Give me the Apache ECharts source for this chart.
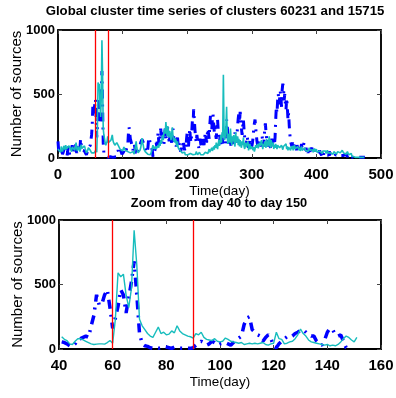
<!DOCTYPE html>
<html>
<head>
<meta charset="utf-8">
<script src="https://cdn.jsdelivr.net/npm/echarts@6/dist/echarts.min.js"></script>
<style>
html, body { margin: 0; padding: 0; background: #fff; }
#main { width: 396px; height: 398px; }
</style>
</head>
<body>
<div id="main"></div>
<script>
// cluster time series, one value per day starting at day 0
var cyanVals = [
    70, 55, 80, 60, 45, 90, 70, 50, 60, 95, 80, 65, 100, 70, 55, 85, 60, 95, 110, 75,
    60, 50, 85, 70, 100, 80, 60, 90, 120, 75, 55, 65, 90, 70, 50, 80, 105, 75, 60, 90, 80,
    // day 41
    95, 75, 65, 40, 35, 60, 80, 80, 70, 60,
    50, 40, 35, 38, 40, 40, 38, 50, 65, 45,
    230, 590, 560, 580, 420, 320, 470, 920, 650, 230,
    180, 150, 120, 100, 90, 130, 170, 120, 130, 110,
    115, 140, 125, 180, 140, 120, 110, 100, 95, 85,
    120, 110, 130, 90, 75, 70, 65, 80, 60, 55,
    60, 85, 75, 60, 55, 50, 45, 50, 35, 40,
    45, 40, 45, 40, 45, 50, 35, 30, 40, 45,
    130, 80, 75, 40, 45, 55, 60, 80, 110, 155,
    120, 100, 70, 55, 50, 45, 40, 35, 30, 35,
    25, 30, 25, 35, 55, 80, 100, 90, 70, 55,
    90,
    // day 152
    70, 60, 85, 100, 80, 120, 95, 140, 110, 150,
    180, 140, 200, 230, 190, 280, 220, 170, 250, 200,
    160, 210, 180, 140, 190, 240, 170, 130, 160, 120,
    150, 110, 90, 130, 80, 70, 95, 60, 50, 45,
    40, 55, 35, 30, 45, 25, 30, 20, 35, 25,
    30, 40, 25, 35, 20, 30, 45, 25, 35, 30,
    40, 30, 50, 35, 25, 40, 30, 45, 35, 25,
    30, 20, 35, 25, 40, 30, 45, 60, 40, 55,
    35, 50, 70, 45, 60, 40, 80, 55, 70, 90,
    65, 100, 80, 120, 90, 70, 110, 140, 95, 130,
    180, 120, 200, 160, 650, 220, 140, 180, 250, 400,
    160, 110, 190, 140, 120, 230, 150, 100, 170, 130,
    180, 110, 90, 200, 140, 120, 170, 100, 150, 90,
    140, 110, 80, 130, 100, 160, 90, 70, 120, 85,
    100, 70, 130, 60, 90, 110, 70, 55, 90, 75,
    60, 85, 50, 70, 100, 80, 65, 110, 75, 90,
    120, 95, 80, 140, 100, 70, 110, 90, 130, 100,
    80, 150, 110, 90, 120, 170, 100, 80, 140, 110,
    90, 120, 70, 100, 80, 110, 90, 70, 100, 85,
    110, 80, 95, 70, 100, 85, 65, 90, 75, 100,
    80, 110, 70, 90, 60, 85, 100, 75, 60, 90,
    70, 95, 60, 80, 100, 70, 55, 85, 65, 90,
    75, 60, 80, 55, 70, 90, 60, 75, 50, 65,
    80, 60, 70, 55, 75, 50, 65, 80, 60, 55,
    70, 50, 65, 45, 60, 75, 50, 55, 70, 45,
    60, 50, 40, 55, 65, 45, 50, 35, 55, 60,
    45, 40, 55, 35, 50, 60, 40, 45, 35, 50,
    40, 55, 35, 45, 30, 50, 40, 35, 45, 30,
    40, 50, 35, 45, 55, 40, 30, 45, 60, 50,
    40, 55, 35, 45, 30, 40, 50, 35, 25, 40,
    30, 20, 35, 15, 5, 5, 5, 5, 5, 5,
    5, 5, 5, 5, 5, 5, 5, 5, 5, 5, 5, 5, 5, 5
];

var blueVals = [
    130, 60, 30, 20, 40, 80, 50, 30, 20, 60, 100, 70, 40, 30, 20, 50, 90, 60, 30, 20,
    40, 70, 100, 60, 30, 40, 80, 110, 70, 40, 60, 90, 70, 50, 80, 150, 100, 60, 50, 70, 60,
    // day 41
    55, 50, 40, 25, 20, 40, 75, 80, 90, 100,
    90, 180, 260, 420, 340, 350, 420, 460, 320, 160,
    240, 330, 460, 420, 280, 400, 520, 680, 420, 120,
    40, 25, 20, 10, 5, 10, 5, 10, 20, 15,
    10, 5, 15, 10, 5, 5, 10, 5, 5, 10,
    30, 45, 60, 50, 30, 40, 60, 50, 30, 40,
    45, 50, 40, 30, 50, 70, 85, 100, 190, 240,
    250, 150, 130, 110, 100, 60, 90, 110, 80, 20,
    10, 40, 60, 80, 95, 90, 100, 120, 130, 145,
    150, 130, 110, 100, 100, 60, 40, 30, 70, 130,
    160, 150, 110, 100, 110, 60, 10, 0, 20, 60,
    90,
    // day 152
    120, 90, 150, 200, 130, 100, 180, 230, 160, 120,
    200, 150, 110, 180, 230, 170, 140, 200, 250, 180,
    130, 160, 210, 150, 120, 180, 230, 170, 130, 150,
    110, 90, 130, 160, 100, 80, 120, 70, 50, 80,
    60, 100, 140, 90, 60, 110, 80, 150, 200, 120,
    90, 170, 230, 150, 120, 200, 290, 250, 380, 300,
    220, 160, 120, 180, 140, 100, 80, 120, 150, 110,
    90, 130, 170, 140, 100, 150, 200, 160, 120, 180,
    230, 190, 150, 260, 330, 280, 220, 300, 340, 260,
    200, 240, 180, 150, 250, 300, 220, 160, 120, 180,
    140, 100, 160, 120, 90, 140, 200, 170, 110, 300,
    250, 180, 130, 100, 150, 120, 90, 130, 170, 140,
    110, 150, 200, 160, 120, 170, 250, 310, 350, 280,
    360, 300, 230, 180, 250, 300, 220, 160, 110, 90,
    130, 170, 120, 80, 110, 150, 100, 70, 90, 120,
    160, 230, 270, 300, 240, 180, 130, 100, 80, 110,
    150, 120, 90, 130, 170, 120, 90, 140, 230, 270,
    200, 150, 110, 90, 140, 120, 100, 80, 110, 150,
    120, 90, 130, 100, 160, 300, 400, 350, 450, 500,
    420, 460, 520, 480, 400, 530, 580, 560, 450, 500,
    420, 380, 470, 400, 300, 350, 250, 180, 130, 110,
    90, 120, 100, 80, 70, 110, 90, 60, 100, 80,
    70, 50, 90, 60, 80, 110, 70, 60, 100, 120,
    90, 60, 80, 50, 70, 40, 60, 80, 50, 40,
    60, 80, 50, 40, 30, 60, 50, 70, 40, 30,
    50, 40, 30, 60, 40, 30, 20, 50, 40, 30,
    20, 40, 50, 30, 20, 40, 30, 20, 50, 40,
    30, 20, 40, 30, 20, 10, 30, 40, 20, 30,
    20, 10, 30, 20, 40, 30, 20, 10, 20, 30,
    20, 30, 10, 20, 30, 20, 10, 20, 30, 20,
    10, 20, 10, 5, 5, 5, 5, 5, 5, 5,
    5, 5, 5, 5, 5, 5, 5, 5, 5, 5, 5, 5, 5, 5
];

var redDaysTop = [58, 78];
var redDaysZoom = [60, 90];
var zoomFrom = 41, zoomTo = 151;

var chart = echarts.init(document.getElementById('main'));
var font = 'Liberation Sans, Arial, sans-serif';

function toPairs(vals, from, to) {
    var out = [];
    for (var i = from; i <= to && i < vals.length; i++) out.push([i, vals[i]]);
    return out;
}

function plain(v) { return String(v); }

function xAxes(g, min, max, step) {
    return [{
        type: 'value', gridIndex: g, min: min, max: max, interval: step, position: 'bottom',
        name: 'Time(day)', nameLocation: 'middle', nameGap: 26, nameMoveOverlap: false,
        nameTextStyle: { color: '#000', fontSize: 13.5, fontFamily: font },
        axisLine: { onZero: false, lineStyle: { color: '#000', width: 2 } },
        axisTick: { inside: true, length: 4, lineStyle: { color: '#444' } },
        axisLabel: { color: '#000', fontWeight: 'bold', fontSize: 15, fontFamily: font, margin: 9, formatter: plain },
        splitLine: { show: false }
    }, {
        type: 'value', gridIndex: g, min: min, max: max, interval: step, position: 'top',
        axisLine: { onZero: false, lineStyle: { color: '#000', width: 1.5 } },
        axisTick: { inside: true, length: 4, lineStyle: { color: '#444' } },
        axisLabel: { show: false },
        splitLine: { show: false }
    }];
}

function yAxes(g) {
    return [{
        type: 'value', gridIndex: g, min: 0, max: 1000, interval: 500, position: 'left',
        name: 'Number of sources', nameLocation: 'middle', nameGap: 34, nameMoveOverlap: false,
        nameTextStyle: { color: '#000', fontSize: 15, fontFamily: font },
        axisLine: { show: true, onZero: false, lineStyle: { color: '#000', width: 1.5 } },
        axisTick: { show: true, inside: true, length: 4, lineStyle: { color: '#444' } },
        axisLabel: { color: '#000', fontWeight: 'bold', fontSize: 13, fontFamily: font, margin: 3, formatter: plain },
        splitLine: { show: false }
    }, {
        type: 'value', gridIndex: g, min: 0, max: 1000, interval: 500, position: 'right',
        axisLine: { show: true, onZero: false, lineStyle: { color: '#000', width: 1.5 } },
        axisTick: { show: true, inside: true, length: 4, lineStyle: { color: '#444' } },
        axisLabel: { show: false },
        splitLine: { show: false }
    }];
}

function redLines(days) {
    return {
        silent: true, symbol: ['none', 'none'], label: { show: false },
        lineStyle: { color: '#ff0000', width: 1.3, type: 'solid', opacity: 1 },
        emphasis: { disabled: true },
        data: days.map(function (d) { return { xAxis: d }; })
    };
}

var blueStyle = { color: '#0000ff', type: [9, 6, 2, 6] };
var cyanColor = '#17bdbd';

var option = {
    animation: false,
    backgroundColor: '#fff',
    grid: [
        { left: 58, top: 30, width: 323, height: 128, show: true, borderColor: '#000', borderWidth: 1.5, outerBoundsMode: 'none', containLabel: false },
        { left: 59, top: 220, width: 322, height: 129, show: true, borderColor: '#000', borderWidth: 1.5, outerBoundsMode: 'none', containLabel: false }
    ],
    xAxis: xAxes(0, 0, 500, 100).concat(xAxes(1, 40, 160, 20)),
    yAxis: yAxes(0).concat(yAxes(1)),
    series: [{
        type: 'line', xAxisIndex: 0, yAxisIndex: 0, showSymbol: false, silent: true,
        data: toPairs(blueVals, 0, blueVals.length - 1),
        lineStyle: Object.assign({ width: 3 }, blueStyle)
    }, {
        type: 'line', xAxisIndex: 0, yAxisIndex: 0, showSymbol: false, silent: true,
        data: toPairs(cyanVals, 0, cyanVals.length - 1),
        lineStyle: { color: cyanColor, width: 1.6 },
        markLine: redLines(redDaysTop)
    }, {
        type: 'line', xAxisIndex: 2, yAxisIndex: 2, showSymbol: false, silent: true,
        data: toPairs(blueVals, zoomFrom, zoomTo - 3),
        lineStyle: Object.assign({ width: 3.5 }, blueStyle)
    }, {
        type: 'line', xAxisIndex: 2, yAxisIndex: 2, showSymbol: false, silent: true,
        data: toPairs(cyanVals, zoomFrom, zoomTo),
        lineStyle: { color: cyanColor, width: 1.4 },
        markLine: redLines(redDaysZoom)
    }],
    graphic: [{
        type: 'text', x: 215, y: 11,
        style: { text: 'Global cluster time series of clusters 60231 and 15715', align: 'center',
                 verticalAlign: 'middle', font: 'bold 13.2px ' + font, fill: '#000' }
    }, {
        type: 'text', x: 219, y: 203,
        style: { text: 'Zoom from day 40 to day 150', align: 'center',
                 verticalAlign: 'middle', font: 'bold 12.8px ' + font, fill: '#000' }
    }]
};

chart.setOption(option);
</script>
</body>
</html>
